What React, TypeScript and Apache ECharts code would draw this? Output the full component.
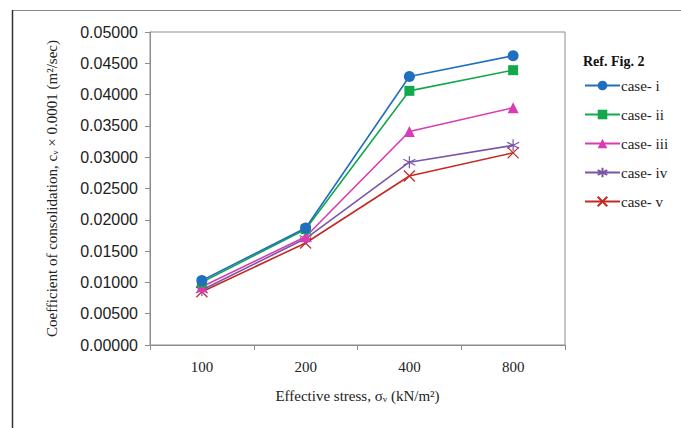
import React, { useEffect, useRef } from "react";
import * as echarts from "echarts";

const categories = ["100", "200", "400", "800"];
const seriesNames = ["case- i", "case- ii", "case- iii", "case- iv", "case- v"];
const caseI = [0.0103, 0.0187, 0.0429, 0.0462];
const caseII = [0.0100, 0.0185, 0.0406, 0.0439];
const caseIII = [0.0093, 0.0173, 0.0341, 0.0379];
const caseIV = [0.0088, 0.0170, 0.0292, 0.0319];
const caseV = [0.0085, 0.0163, 0.0270, 0.0307];

const colors = ["#1f6fbf", "#14a84c", "#d93bb4", "#7a55a8", "#c42a22"];
const symbols = [
  "circle",
  "rect",
  "triangle",
  "path://M0,-6L0,6M-5.2,-3L5.2,3M-5.2,3L5.2,-3",
  "path://M-5,-5L5,5M-5,5L5,-5",
];
const symbolSizes = [11, 10, 11, 12, 11];

export default function App() {
  const ref = useRef<HTMLDivElement>(null);
  useEffect(() => {
    if (!ref.current) return;
    const chart = echarts.init(ref.current, null, { renderer: "svg" });
    const allData = [caseI, caseII, caseIII, caseIV, caseV];
    const series = allData.map((d, i) => {
      const stroked = i >= 3;
      return {
        name: seriesNames[i],
        type: "line",
        data: d,
        symbol: symbols[i],
        symbolSize: symbolSizes[i],
        showSymbol: true,
        lineStyle: { color: colors[i], width: 1.6 },
        itemStyle: stroked
          ? { color: "rgba(0,0,0,0)", borderColor: colors[i], borderWidth: 1.2 }
          : { color: colors[i], borderWidth: 0 },
        z: 10 - i,
      };
    });
    chart.setOption({
      animation: false,
      backgroundColor: "#ffffff",
      grid: {
        left: 150,
        top: 32,
        width: 415,
        height: 313,
        show: true,
        borderColor: "#8c8c8c",
        borderWidth: 1,
        containLabel: false,
      },
      legend: {
        orient: "vertical",
        left: 584,
        top: 78,
        padding: 0,
        itemWidth: 35,
        itemHeight: 12,
        itemGap: 14,
        data: seriesNames,
        textStyle: {
          fontFamily: "Liberation Serif",
          fontSize: 15,
          color: "#222",
          padding: [0, 0, 0, -4],
        },
      },
      graphic: [
        {
          type: "text",
          left: 583,
          top: 54,
          style: {
            text: "Ref. Fig. 2",
            fontFamily: "Liberation Serif",
            fontWeight: "bold",
            fontSize: 14,
            fill: "#111",
          },
        },
        {
          type: "line",
          shape: { x1: 12, y1: 10.5, x2: 681, y2: 10.5 },
          style: { stroke: "#888", lineWidth: 1.2 },
        },
        {
          type: "line",
          shape: { x1: 12.5, y1: 10, x2: 12.5, y2: 428 },
          style: { stroke: "#333", lineWidth: 1.5 },
        },
      ],
      xAxis: {
        type: "category",
        data: categories,
        boundaryGap: true,
        name: "Effective stress, σᵥ (kN/m²)",
        nameLocation: "middle",
        nameGap: 43,
        nameTextStyle: {
          fontFamily: "Liberation Serif",
          fontSize: 15,
          color: "#222",
        },
        axisLine: { lineStyle: { color: "#8c8c8c" } },
        axisTick: { show: true, length: 5, lineStyle: { color: "#8c8c8c" } },
        axisLabel: {
          fontFamily: "Liberation Serif",
          fontSize: 15,
          color: "#222",
          margin: 14,
        },
        splitLine: { show: false },
      },
      yAxis: {
        type: "value",
        min: 0,
        max: 0.05,
        interval: 0.005,
        name: "Coefficient of consolidation, cᵥ × 0.0001 (m²/sec)",
        nameLocation: "middle",
        nameGap: 91,
        nameTextStyle: {
          fontFamily: "Liberation Serif",
          fontSize: 15,
          color: "#222",
        },
        axisLine: { show: true, lineStyle: { color: "#8c8c8c" } },
        axisTick: { show: true, length: 5, lineStyle: { color: "#8c8c8c" } },
        axisLabel: {
          fontFamily: "Liberation Sans",
          fontSize: 16,
          color: "#222",
          margin: 12,
          formatter: (v: number) => v.toFixed(5),
        },
        splitLine: { show: false },
      },
      series,
    });
    return () => chart.dispose();
  }, []);
  return (
    <div
      ref={ref}
      style={{ position: "absolute", left: 0, top: 0, width: 681, height: 428 }}
    />
  );
}
